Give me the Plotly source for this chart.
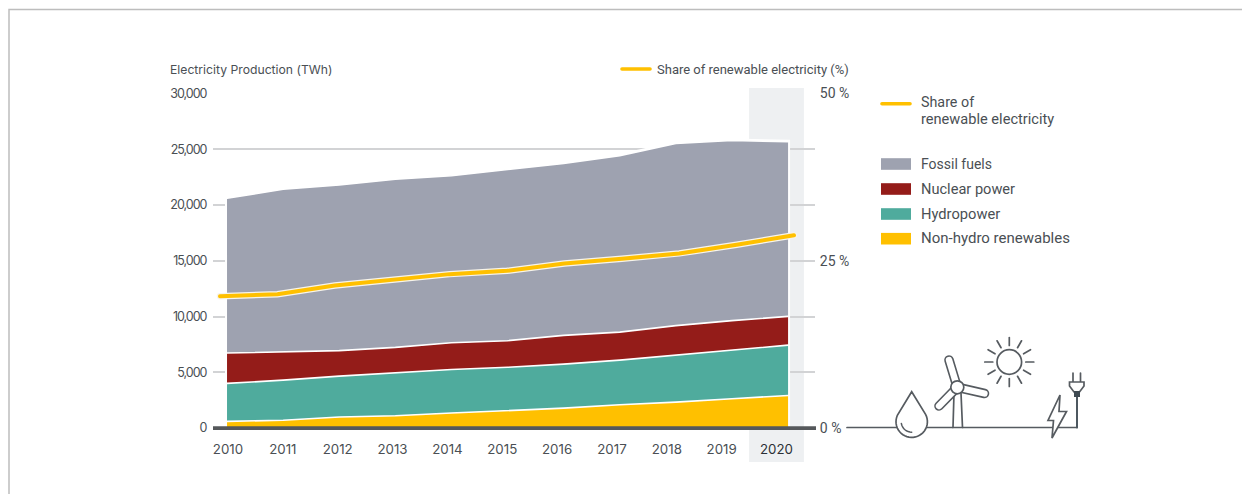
import math
import plotly.graph_objects as go

W, H = 1242, 494

# ---- data ----
years = [2010, 2011, 2012, 2013, 2014, 2015, 2016, 2017, 2018, 2019, 2020]
non_hydro = [590, 700, 990, 1100, 1340, 1550, 1780, 2090, 2320, 2630, 2920]
hydro = [3410, 3590, 3660, 3870, 3910, 3900, 3950, 4000, 4220, 4310, 4510]
nuclear = [2720, 2530, 2290, 2260, 2400, 2380, 2580, 2510, 2640, 2690, 2580]
fossil = [13880, 14600, 14850, 15090, 14980, 15330, 15420, 15830, 16330, 16160, 15660]
share = [19.7, 20.0, 21.3, 22.2, 23.0, 23.5, 24.6, 25.3, 26.1, 27.4, 28.8]
left_ticks = [0, 5000, 10000, 15000, 20000, 25000, 30000]
right_ticks = [0, 25, 50]
right_labels = ["0 %", "25 %", "50 %"]

C_FOSSIL, C_NUC, C_HYD, C_NH = "#9ea2b0", "#941c19", "#4fab9d", "#ffc000"
TXT = "#4a4f54"
GRID = "#d2d3d5"
ICON = "#565b60"
F_A = "Inter"
F_B = "Roboto"


def X(x):
    return x / W


def Y(y):
    return 1 - y / H


def P(points, close=False):
    s = "M" + " L".join(f"{X(a):.5f},{Y(b):.5f}" for a, b in points)
    return s + (" Z" if close else "")


fig = go.Figure()

# white halo around the whole stacked area
total = [a + b + c + d for a, b, c, d in zip(non_hydro, hydro, nuclear, fossil)]
fig.add_trace(go.Scatter(
    x=[years[0]] + years + [years[-1]], y=[0] + total + [0],
    mode="lines", line=dict(color="white", width=4), fill="toself",
    fillcolor="white", hoverinfo="skip", showlegend=False))

for name, vals, col in [("Non-hydro renewables", non_hydro, C_NH),
                        ("Hydropower", hydro, C_HYD),
                        ("Nuclear power", nuclear, C_NUC),
                        ("Fossil fuels", fossil, C_FOSSIL)]:
    fig.add_trace(go.Scatter(
        x=years, y=vals, name=name, stackgroup="one", mode="lines",
        line=dict(color="white", width=1.6), fillcolor=col, showlegend=False))

# axis carrying the year labels
fig.add_trace(go.Scatter(x=years, y=[None] * len(years), xaxis="x2", yaxis="y",
                         mode="lines", hoverinfo="skip", showlegend=False))

fig.add_trace(go.Scatter(x=years, y=share, xaxis="x3", yaxis="y2", mode="lines",
                         line=dict(color="#f7f4ea", width=6.5), hoverinfo="skip",
                         showlegend=False))
fig.add_trace(go.Scatter(x=years, y=share, xaxis="x3", yaxis="y2", mode="lines",
                         name="Share of renewable electricity",
                         line=dict(color=C_NH, width=4), showlegend=False))

shapes = []
# outer frame
shapes.append(dict(type="path", xref="paper", yref="paper",
                   path=P([(9, H), (9, 9.5), (W, 9.5)]),
                   line=dict(color="#bdbdbd", width=1.5)))
# highlighted year band
shapes.append(dict(type="rect", xref="x2", yref="paper", x0=2019.5, x1=2020.5,
                   y0=Y(462), y1=Y(88), layer="below", fillcolor="#eef0f2",
                   line=dict(width=0)))
# baseline
shapes.append(dict(type="rect", xref="paper", yref="paper", x0=X(213), x1=X(816),
                   y0=Y(430), y1=Y(426.2), fillcolor="#55585b", line=dict(width=0)))


def seg(a, b, color=ICON, width=1.7):
    shapes.append(dict(type="path", xref="paper", yref="paper", path=P([a, b]),
                       line=dict(color=color, width=width)))


def circle(cx, cy, r, fill="white", width=1.7):
    shapes.append(dict(type="circle", xref="paper", yref="paper",
                       x0=X(cx - r), x1=X(cx + r), y0=Y(cy + r), y1=Y(cy - r),
                       fillcolor=fill, line=dict(color=ICON, width=width)))


def poly(points, fill="white", width=1.7):
    shapes.append(dict(type="path", xref="paper", yref="paper", path=P(points, True),
                       fillcolor=fill, line=dict(color=ICON, width=width)))


# legend swatches
seg((882, 103.7), (910, 103.7), C_NH, 3.6)
seg((622, 69), (650, 69), C_NH, 3.6)
for cy, col in [(164, C_FOSSIL), (189, C_NUC), (214, C_HYD), (238.7, C_NH)]:
    shapes.append(dict(type="rect", xref="paper", yref="paper", x0=X(881), x1=X(911),
                       y0=Y(cy + 5.8), y1=Y(cy - 5.8), fillcolor=col, line=dict(width=0)))

# icon: ground line and cord
seg((847, 427.5), (1077, 427.5))
seg((1077, 427.5), (1077, 395), "#4d5860", 2)

# icon: drop
R = 15.7
cx, cy = 911.7, 421.7
drop = [(cx, 391.7)]
for deg in range(-28, 209, 8):
    a = math.radians(deg)
    drop.append((cx + R * math.cos(a), cy + R * math.sin(a)))
poly(drop)
arc = []
for deg in range(90, 171, 10):
    a = math.radians(deg)
    arc.append((cx + 10.5 * math.cos(a), cy + 10.5 * math.sin(a)))
shapes.append(dict(type="path", xref="paper", yref="paper", path=P(arc),
                   line=dict(color=ICON, width=1.5)))

# icon: wind turbine
hub = (957.3, 387.3)
seg((954, 393), (953, 427.5))
seg((961, 393), (962.5, 427.5))
blade_tips = [(949, 360), (984.5, 393.5), (939, 406)]
for tip in blade_tips:
    seg(hub, tip, ICON, 9.6)
for tip in blade_tips:
    seg(hub, tip, "white", 6.4)
circle(hub[0], hub[1], 6.5)

# icon: sun
sx, sy = 1009.3, 362
circle(sx, sy, 12.3)
for i in range(12):
    a = math.radians(i * 30)
    seg((sx + 16.5 * math.cos(a), sy + 16.5 * math.sin(a)),
        (sx + 24.5 * math.cos(a), sy + 24.5 * math.sin(a)))

# icon: bolt
poly([(1060, 395), (1048, 420.5), (1053.5, 420.5), (1052, 438), (1066.5, 411.5), (1059, 411.5)])

# icon: plug
seg((1073, 373), (1073, 382))
seg((1080.5, 373), (1080.5, 382))
poly([(1069.5, 382), (1084, 382), (1084, 386), (1079.5, 392), (1074, 392), (1069.5, 386)])
shapes.append(dict(type="rect", xref="paper", yref="paper", x0=X(1074), x1=X(1080),
                   y0=Y(397), y1=Y(391), fillcolor="#3f4a52", line=dict(width=0)))

ann = []


def text(x, y, s, font=F_B, size=14, anchor="left"):
    ann.append(dict(xref="paper", yref="paper", x=X(x), y=Y(y), text=s, showarrow=False,
                    xanchor=anchor, yanchor="middle", align="left", borderpad=0, borderwidth=0,
                    font=dict(family=font, size=size, color=TXT)))


text(170, 69, "Electricity Production (TWh)", F_A, 12.2)
text(657, 69, "Share of renewable electricity (%)", F_B, 13)
text(921, 102.2, "Share of", F_B, 14.3)
text(921, 119, "renewable electricity", F_B, 14.6)
text(921, 164, "Fossil fuels", F_B, 14)
text(921, 189, "Nuclear power", F_B, 14.6)
text(921, 214, "Hydropower", F_B, 14.7)
text(921, 238.5, "Non-hydro renewables", F_B, 15)

dom_x = [X(213), X(815)]
dom_y = [Y(428), Y(93.5)]
year_labels = [str(v) for v in years]
year_labels[-1] = '<span style="color:#2c3036">2020</span>'

fig.update_layout(
    template="none",
    width=W, height=H, margin=dict(l=0, r=0, t=0, b=0, pad=0),
    paper_bgcolor="white", plot_bgcolor="rgba(0,0,0,0)", showlegend=False,
    shapes=shapes, annotations=ann,
    xaxis=dict(domain=dom_x, range=[2009.75, 2020.48], visible=False, anchor="y", automargin=False),
    xaxis2=dict(domain=dom_x, range=[2009.727, 2020.702], overlaying="x", anchor="y", side="bottom",
                tickvals=years, ticktext=year_labels, showgrid=False, zeroline=False, showline=False,
                ticks="outside", ticklen=9, tickcolor="rgba(0,0,0,0)", automargin=False,
                tickfont=dict(family=F_A, size=13.3, color=TXT)),
    xaxis3=dict(domain=dom_x, range=[2009.878, 2020.366], overlaying="x", anchor="y2", visible=False,
                automargin=False),
    yaxis=dict(domain=dom_y, range=[0, 30000], tickvals=left_ticks, tickformat=",", showgrid=True,
               gridcolor=GRID, gridwidth=1.5, zeroline=False, showline=False, anchor="x",
               ticks="outside", ticklen=3, tickcolor="rgba(0,0,0,0)", automargin=False,
               tickfont=dict(family=F_A, size=12.5, color=TXT)),
    yaxis2=dict(domain=dom_y, range=[0, 50], tickvals=right_ticks, ticktext=right_labels, showgrid=False,
                zeroline=False, showline=False, overlaying="y", side="right", anchor="x",
                ticks="outside", ticklen=1, tickcolor="rgba(0,0,0,0)", automargin=False,
                tickfont=dict(family=F_B, size=14, color=TXT)),
)

css = ("document.body.style.margin='0';document.body.style.overflow='hidden';"
       "var s=document.createElement('style');"
       "s.textContent='.js-line,.shapelayer path{stroke-linecap:round}"
       ".ytick text{letter-spacing:-1px}';"
       "document.head.appendChild(s);")
fig.write_html("out.html", post_script=css, config={"displayModeBar": False})
